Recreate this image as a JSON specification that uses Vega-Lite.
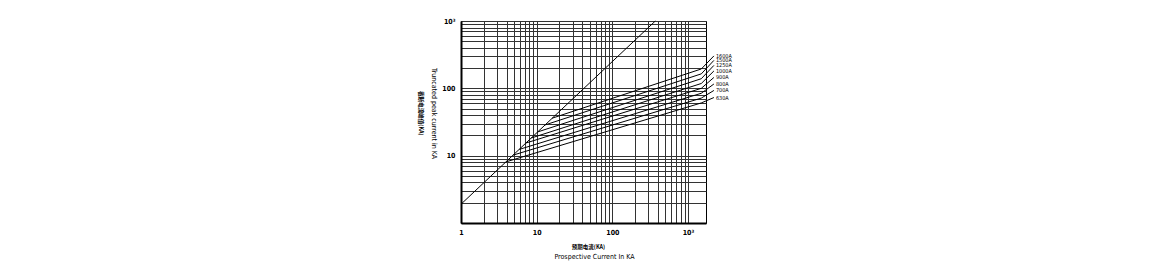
{
  "$schema": "https://vega.github.io/schema/vega-lite/v6.json",
  "width": 245,
  "height": 202,
  "autosize": {"type": "none"},
  "padding": {"left": 461, "top": 21, "right": 452, "bottom": 55},
  "background": "white",
  "config": {
    "view": {"stroke": "#000", "strokeWidth": 1},
    "font": "DejaVu Sans Condensed"
  },
  "datasets": {
    "diag": [
      {"x": 1, "y": 1.9},
      {"x": 370, "y": 1000}
    ],
    "curves": [
      {"rating": "630A", "x": 3.95, "y": 8.1},
      {"rating": "630A", "x": 1500, "y": 60.7},
      {"rating": "630A", "x": 2200, "y": 73},
      {"rating": "700A", "x": 4.9, "y": 10.2},
      {"rating": "700A", "x": 1500, "y": 71.6},
      {"rating": "700A", "x": 2200, "y": 93},
      {"rating": "800A", "x": 5.9, "y": 12.4},
      {"rating": "800A", "x": 1500, "y": 84.5},
      {"rating": "800A", "x": 2200, "y": 116},
      {"rating": "900A", "x": 7.2, "y": 15.4},
      {"rating": "900A", "x": 1500, "y": 100},
      {"rating": "900A", "x": 2200, "y": 145},
      {"rating": "1000A", "x": 8.5, "y": 18.3},
      {"rating": "1000A", "x": 1500, "y": 118},
      {"rating": "1000A", "x": 2200, "y": 181},
      {"rating": "1250A", "x": 10.3, "y": 22.5},
      {"rating": "1250A", "x": 1500, "y": 139},
      {"rating": "1250A", "x": 2200, "y": 219},
      {"rating": "1500A", "x": 12.9, "y": 28.6},
      {"rating": "1500A", "x": 1500, "y": 164},
      {"rating": "1500A", "x": 2200, "y": 260},
      {"rating": "1600A", "x": 16.0, "y": 36},
      {"rating": "1600A", "x": 1500, "y": 194},
      {"rating": "1600A", "x": 2200, "y": 303}
    ],
    "labels": [
      {"rating": "630A", "x": 2200, "y": 73},
      {"rating": "700A", "x": 2200, "y": 93},
      {"rating": "800A", "x": 2200, "y": 116},
      {"rating": "900A", "x": 2200, "y": 145},
      {"rating": "1000A", "x": 2200, "y": 181},
      {"rating": "1250A", "x": 2200, "y": 219},
      {"rating": "1500A", "x": 2200, "y": 260},
      {"rating": "1600A", "x": 2200, "y": 303}
    ]
  },
  "resolve": {"axis": {"x": "independent", "y": "independent"}},
  "layer": [
    {
      "data": {"name": "diag"},
      "mark": {"type": "line", "color": "#000", "strokeWidth": 1},
      "encoding": {
        "x": {
          "field": "x", "type": "quantitative",
          "scale": {"type": "log", "domain": [1, 1730], "nice": false},
          "axis": {
            "orient": "bottom",
            "values": [1,2,3,4,5,6,7,8,9,10,20,30,40,50,60,70,80,90,100,200,300,400,500,600,700,800,900,1000],
            "labelExpr": "datum.value == 1 ? '1' : datum.value == 10 ? '10' : datum.value == 100 ? '100' : datum.value == 1000 ? '10³' : ''",
            "grid": true, "gridColor": "#333", "gridWidth": 1, "gridOpacity": 1,
            "ticks": false, "domain": true, "domainColor": "#000", "domainWidth": 2,
            "labelFont": "DejaVu Sans Condensed", "labelFontSize": 7, "labelFontWeight": "bold", "labelColor": "#000",
            "labelPadding": 5, "labelOverlap": false, "labelFlush": false, "labelBound": false,
            "title": "预期电流(KA)",
            "titleFont": "Noto Sans CJK SC", "titleFontSize": 5.5, "titleFontWeight": "bold", "titleColor": "#000",
            "titleX": 127, "titleY": 23, "titleAlign": "center", "titleBaseline": "middle", "titleAnchor": null
          }
        },
        "y": {
          "field": "y", "type": "quantitative",
          "scale": {"type": "log", "domain": [1, 1000], "nice": false},
          "axis": {
            "orient": "left",
            "values": [1,2,3,4,5,6,7,8,9,10,20,30,40,50,60,70,80,90,100,200,300,400,500,600,700,800,900,1000],
            "labelExpr": "datum.value == 10 ? '10' : datum.value == 100 ? '100' : datum.value == 1000 ? '10³' : ''",
            "grid": true, "gridColor": "#333", "gridWidth": 1, "gridOpacity": 1,
            "ticks": false, "domain": true, "domainColor": "#000", "domainWidth": 2,
            "labelFont": "DejaVu Sans Condensed", "labelFontSize": 7, "labelFontWeight": "bold", "labelColor": "#000",
            "labelPadding": 6, "labelOverlap": false, "labelFlush": false, "labelBound": false,
            "title": "Truncated peak current in KA",
            "titleFont": "DejaVu Sans Condensed", "titleFontSize": 7, "titleFontWeight": "normal", "titleColor": "#000",
            "titleX": -28, "titleY": 92, "titleAngle": 90, "titleAlign": "center", "titleBaseline": "middle", "titleAnchor": null
          }
        }
      }
    },
    {
      "data": {"name": "curves"},
      "mark": {"type": "line", "color": "#000", "strokeWidth": 1},
      "encoding": {
        "detail": {"field": "rating"},
        "x": {
          "field": "x", "type": "quantitative",
          "scale": {"type": "log", "domain": [1, 1730], "nice": false},
          "axis": {
            "orient": "bottom",
            "labels": false, "ticks": false, "domain": false, "grid": false,
            "title": "Prospective Current In KA",
            "titleFont": "DejaVu Sans Condensed", "titleFontSize": 7, "titleFontWeight": "normal", "titleColor": "#000",
            "titleX": 133, "titleY": 33, "titleAlign": "center", "titleBaseline": "middle", "titleAnchor": null
          }
        },
        "y": {
          "field": "y", "type": "quantitative",
          "scale": {"type": "log", "domain": [1, 1000], "nice": false},
          "axis": {
            "orient": "left",
            "labels": false, "ticks": false, "domain": false, "grid": false,
            "title": "截断电流峰值(KA)",
            "titleFont": "Noto Sans CJK SC", "titleFontSize": 5.5, "titleFontWeight": "bold", "titleColor": "#000",
            "titleX": -41, "titleY": 92, "titleAngle": 90, "titleAlign": "center", "titleBaseline": "middle", "titleAnchor": null
          }
        }
      }
    },
    {
      "data": {"name": "labels"},
      "mark": {"type": "text", "align": "left", "baseline": "middle", "dx": 2, "fontSize": 5.5, "font": "DejaVu Sans Condensed", "color": "#000"},
      "encoding": {
        "text": {"field": "rating"},
        "x": {
          "field": "x", "type": "quantitative",
          "scale": {"type": "log", "domain": [1, 1730], "nice": false},
          "axis": null
        },
        "y": {
          "field": "y", "type": "quantitative",
          "scale": {"type": "log", "domain": [1, 1000], "nice": false},
          "axis": null
        }
      }
    }
  ]
}
